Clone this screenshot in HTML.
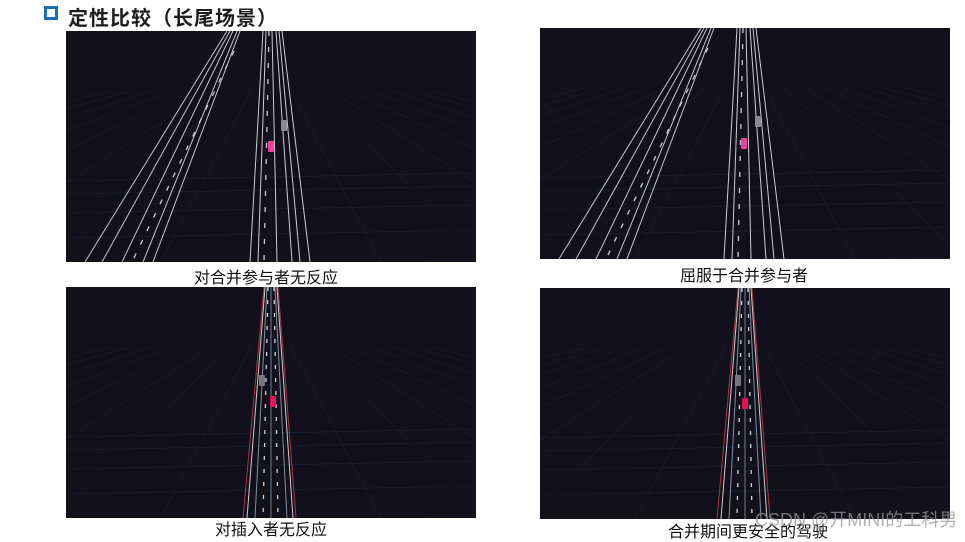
<!DOCTYPE html>
<html><head><meta charset="utf-8">
<style>
body{margin:0;width:965px;height:536px;background:#fff;position:relative;overflow:hidden;font-family:"Liberation Sans","Noto Sans CJK SC",sans-serif;}
.icon{position:absolute;left:44px;top:6px;width:8px;height:8px;border:3px solid #1a6cc0;}
.title{position:absolute;left:68px;top:2px;font-size:20px;font-weight:bold;color:#1d1d1d;letter-spacing:1px;font-family:"Liberation Sans","Noto Sans CJK SC",sans-serif;}
.panel{position:absolute;width:410px;height:231px;background:#12111b;}
.cap{position:absolute;font-size:16px;color:#111;width:410px;text-align:center;}
.wm{position:absolute;left:755px;top:506px;font-size:18px;color:rgba(150,150,150,0.75);white-space:nowrap;}
</style></head><body>
<div class="icon"></div>
<div class="title">定性比较（长尾场景）</div>

<svg class="panel" id="p1" style="left:66px;top:31px" viewBox="0 0 410 231"></svg>
<svg class="panel" id="p2" style="left:540px;top:28px" viewBox="0 0 410 231"></svg>
<svg class="panel" id="p3" style="left:66px;top:287px" viewBox="0 0 410 231"></svg>
<svg class="panel" id="p4" style="left:540px;top:288px" viewBox="0 0 410 231"></svg>

<div class="cap" style="left:61px;top:264px">对合并参与者无反应</div>
<div class="cap" style="left:539px;top:262px">屈服于合并参与者</div>
<div class="cap" style="left:66px;top:516px">对插入者无反应</div>
<div class="cap" style="left:543px;top:518px">合并期间更安全的驾驶</div>
<div class="wm">CSDN @开MINI的工科男</div>

<script>
const NS="http://www.w3.org/2000/svg";
const mergeMain=[[197,184],[200,192],[206,211],[210,226],[213,234],[216,244]];
const mergeLeft=[[161,19],[164,36],[167,56],[171,77],[174,87]];
const cutinLines=[[198,177,"#a03848"],[199,181,"#d8c8cc"],[201,189,"#7f8ea0"],[205,205,"#6c7c90"],[209,221,"#7f8ea0"],[211,227,"#d8c8cc"],[212,230,"#a03848"]];
const cutinDashes=[[202,197],[208,212]];
function el(svg,t,a){const e=document.createElementNS(NS,t);for(const k in a)e.setAttribute(k,a[k]);svg.appendChild(e);return e;}
function grid(svg){
  for(let i=0;i<6;i++){const y=150+i*i*3+i*10;const l=el(svg,'line',{x1:0,y1:y,x2:410,y2:y-8,stroke:'#18223a','stroke-width':0.6});
  
  }
  for(let i=-8;i<=8;i++){const l=el(svg,'line',{x1:205+i*20,y1:60,x2:205+i*110,y2:231,stroke:'#171f30','stroke-width':0.6});
  
  }
}
function car(svg,x,y,c,name){const r=el(svg,'rect',{x:x,y:y,width:6,height:11,fill:c,rx:1});

}
function merge(id,pink,grey){
  const s=document.getElementById(id);grid(s);
  mergeMain.forEach(d=>{const l=el(s,'line',{x1:d[0],y1:0,x2:d[1],y2:231,stroke:'#c9ccd6','stroke-width':1});
  
  });
  mergeLeft.forEach(d=>{const l=el(s,'line',{x1:d[0],y1:0,x2:d[1],y2:231,stroke:'#c0c4ce','stroke-width':1});
  
  });
  const dl=el(s,'line',{x1:203,y1:0,x2:198,y2:231,stroke:'#c9ccd6','stroke-width':1.3,'stroke-dasharray':'5 11'});
  
  
  const dl2=el(s,'line',{x1:168,y1:20,x2:66,y2:231,stroke:'#c9ccd6','stroke-width':1.3,'stroke-dasharray':'5 10'});
  
  
  car(s,pink[0],pink[1],'#f0409a','ego-car');
  car(s,grey[0],grey[1],'#8a8a90','merging-car');
}
function cutin(id,red,grey){
  const s=document.getElementById(id);grid(s);
  cutinLines.forEach(d=>{const l=el(s,'line',{x1:d[0],y1:0,x2:d[1],y2:231,stroke:d[2],'stroke-width':1});
  
  });
  cutinDashes.forEach(d=>{const l=el(s,'line',{x1:d[0],y1:0,x2:d[1],y2:231,stroke:'#d0d4dc','stroke-width':1.3,'stroke-dasharray':'4 9'});
  
  });
  car(s,red[0],red[1],'#e0145a','ego-car');
  car(s,grey[0],grey[1],'#77777d','cutin-car');
}
merge('p1',[202,110],[215,89]);
merge('p2',[201,110],[215,88]);
cutin('p3',[204,109],[193,88]);
cutin('p4',[202,110],[195,87]);
</script>
</body></html>
